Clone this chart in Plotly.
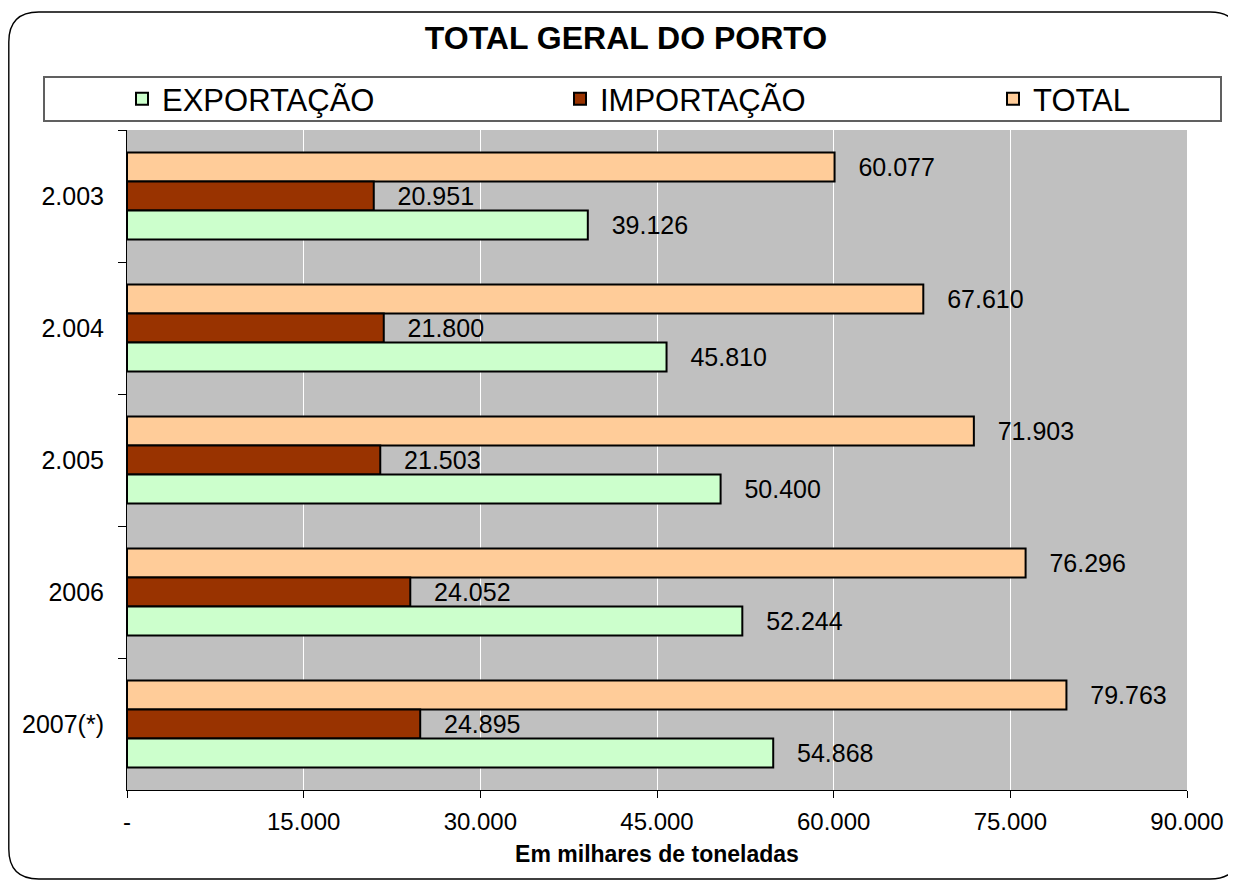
import plotly.graph_objects as go

years = ["2.003", "2.004", "2.005", "2006", "2007(*)"]
exportacao = [39126, 45810, 50400, 52244, 54868]
importacao = [20951, 21800, 21503, 24052, 24895]
total = [60077, 67610, 71903, 76296, 79763]
x_tick_vals = [0, 15000, 30000, 45000, 60000, 75000, 90000]
x_tick_labels = ["-", "15.000", "30.000", "45.000", "60.000", "75.000", "90.000"]

# figure pixel geometry (page body adds an 8px offset on screen)
W, H = 1236, 880
ML, MR, MT, MB = 119, 57, 122, 98
PW, PH = W - ML - MR, H - MT - MB


def px(x):
    return (x - ML) / PW


def py(y):
    return (H - MB - y) / PH


FONT = "Liberation Sans, Arial, sans-serif"
pad = "\u00a0\u00a0\u00a0"

fig = go.Figure()
series = [
    ("TOTAL", total, "#FFCC99", "legend3"),
    ("IMPORTAÇÃO", importacao, "#993300", "legend2"),
    ("EXPORTAÇÃO", exportacao, "#CCFFCC", "legend"),
]
for name, vals, col, leg in series:
    fig.add_trace(go.Bar(
        y=years, x=vals, name=name, orientation="h", legend=leg,
        showlegend=True,
        marker=dict(color=col, line=dict(color="black", width=2)),
        texttemplate=pad + "%{x:,.0f}", textposition="outside",
        textfont=dict(family=FONT, size=25, color="black"),
        constraintext="none", cliponaxis=False,
    ))

# outer rounded border
x0, y0, x1, y1, r = 0.8, 4, 1232, 871, 30
path = (
    f"M {px(x0 + r)},{py(y0)} L {px(x1 - r)},{py(y0)} "
    f"Q {px(x1)},{py(y0)} {px(x1)},{py(y0 + r)} "
    f"L {px(x1)},{py(y1 - r)} Q {px(x1)},{py(y1)} {px(x1 - r)},{py(y1)} "
    f"L {px(x0 + r)},{py(y1)} Q {px(x0)},{py(y1)} {px(x0)},{py(y1 - r)} "
    f"L {px(x0)},{py(y0 + r)} Q {px(x0)},{py(y0)} {px(x0 + r)},{py(y0)} Z"
)
shapes = [
    dict(type="path", xref="paper", yref="paper", path=path,
         line=dict(color="black", width=1.4), layer="below"),
    dict(type="rect", xref="paper", yref="paper",
         x0=px(36), x1=px(1213), y0=py(69), y1=py(113),
         line=dict(color="#606060", width=2), fillcolor="white", layer="below"),
]


def leg(xpix):
    return dict(orientation="h", xref="container", yref="container",
                x=xpix / W, xanchor="left",
                y=1 - 91 / H, yanchor="middle",
                font=dict(family=FONT, size=31, color="black"),
                bgcolor="rgba(0,0,0,0)", borderwidth=0)


fig.update_layout(
    width=W, height=H,
    margin=dict(l=ML, r=MR, t=MT, b=MB, autoexpand=False),
    paper_bgcolor="white", plot_bgcolor="#C0C0C0",
    separators=",.",
    barmode="group", bargap=0.34, bargroupgap=0,
    font=dict(family=FONT, size=24, color="black"),
    title=dict(text="<b>TOTAL GERAL DO PORTO</b>", x=0.5, xanchor="center",
               y=1 - 30 / H, yanchor="middle",
               font=dict(family=FONT, size=32, color="black")),
    legend=leg(114), legend2=leg(552), legend3=leg(985),
    xaxis=dict(range=[0, 90000], tickvals=x_tick_vals, ticktext=x_tick_labels,
               showgrid=True, gridcolor="white", gridwidth=1, zeroline=False,
               showline=True, linecolor="black", linewidth=1,
               ticks="outside", ticklen=7, tickcolor="black",
               ticklabelstandoff=3,
               tickfont=dict(family=FONT, size=24),
               title=dict(text="<b>Em milhares de toneladas</b>", standoff=12,
                          font=dict(family=FONT, size=23))),
    yaxis=dict(autorange="reversed", showgrid=False, zeroline=False,
               showline=True, linecolor="black", linewidth=1,
               ticks="outside", ticklen=8, tickcolor="black", tickson="boundaries",
               ticklabelstandoff=17,
               tickfont=dict(family=FONT, size=25)),
    shapes=shapes,
)

fig.write_html("out.html")
